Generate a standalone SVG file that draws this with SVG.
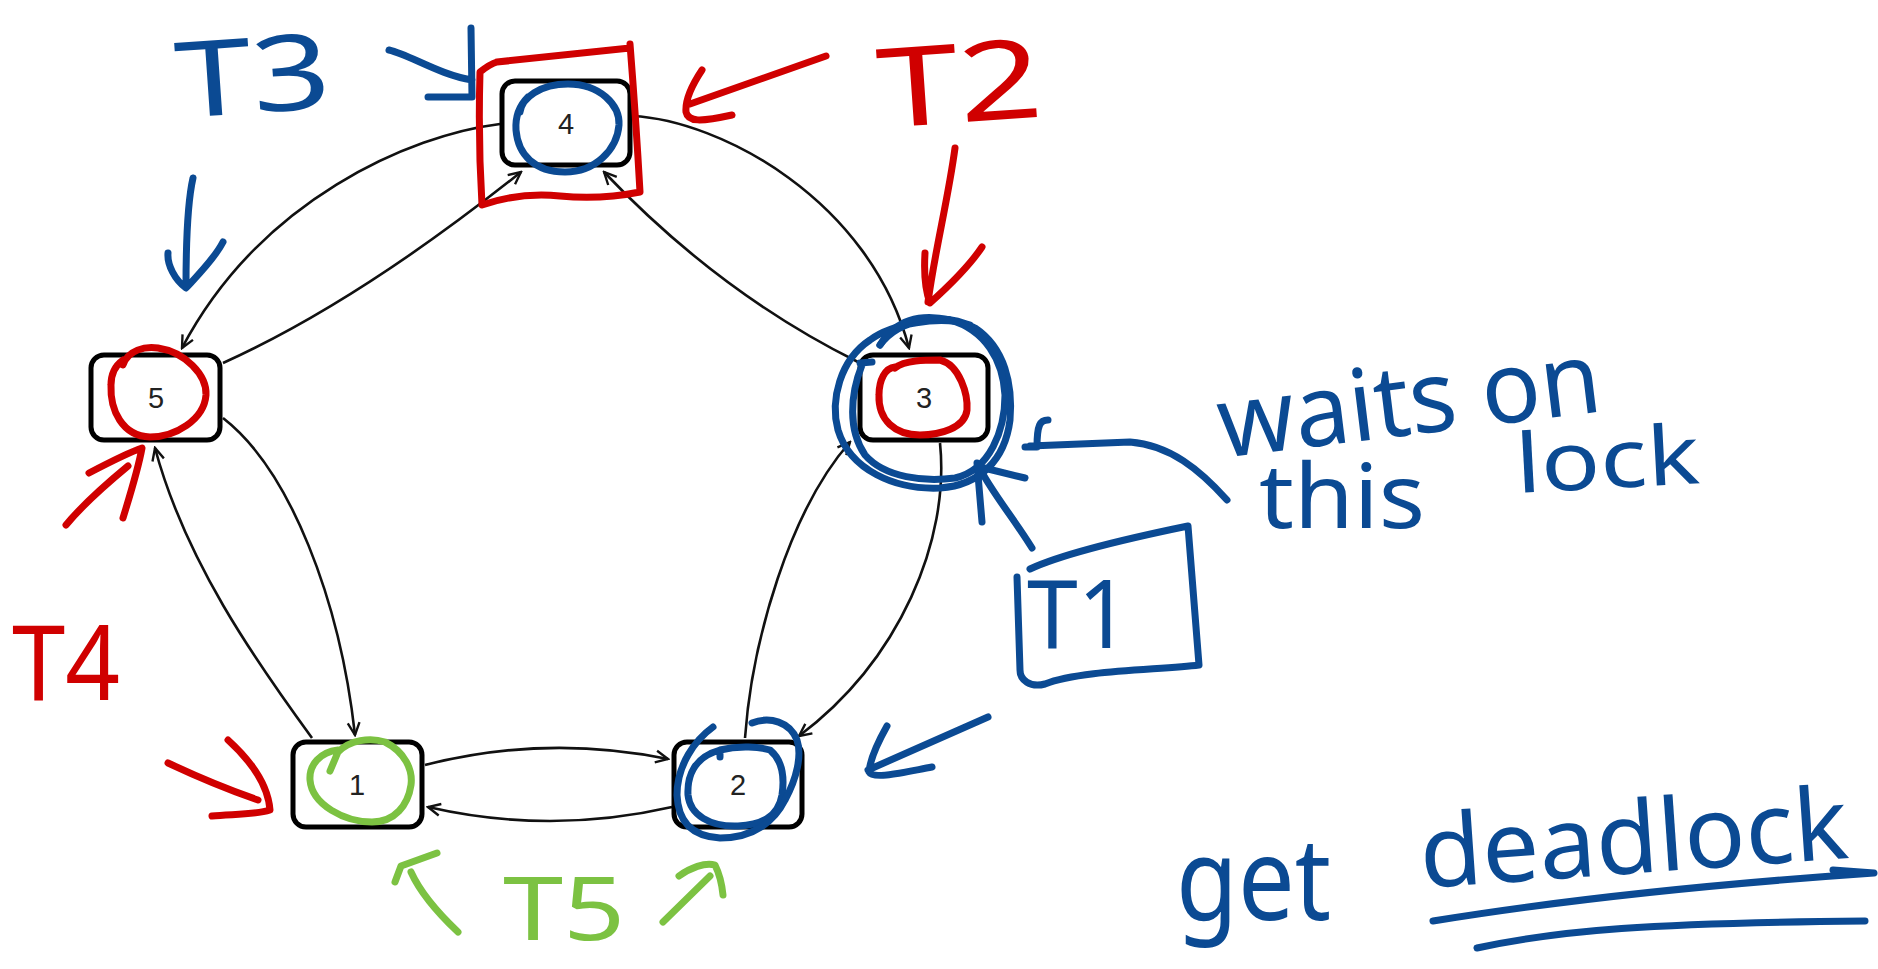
<svg xmlns="http://www.w3.org/2000/svg" width="1878" height="969" viewBox="0 0 1878 969">
<defs>
<style>
.box{fill:#fff;stroke:#000;stroke-width:5}
.lbl{font-family:"Liberation Sans",Arial,sans-serif;font-size:29px;fill:#222;text-anchor:middle}
.edge{fill:none;stroke:#111;stroke-width:2.6}
.pen{fill:none;stroke-width:7;stroke-linecap:round;stroke-linejoin:round}
.blue{stroke:#0b4a93}
.red{stroke:#d00000}
.green{stroke:#7cc242}
.hw{font-family:"Noto Sans","DejaVu Sans",sans-serif}
.tb{fill:#0b4a93}
.tr{fill:#d00000}
.tg{fill:#7cc242}
</style>
<marker id="arr" viewBox="0 0 14 14" refX="12.5" refY="7" markerWidth="15" markerHeight="15" markerUnits="userSpaceOnUse" orient="auto">
<path d="M1,1.5 L12.5,7 L1,12.5" fill="none" stroke="#111" stroke-width="2.2"/>
</marker>
</defs>
<rect width="1878" height="969" fill="#fff"/>
<g id="connectors">
<path class="edge" marker-end="url(#arr)" d="M500,124 C410,135 260,200 182,348"/>
<path class="edge" marker-end="url(#arr)" d="M223,363 Q358,302 521,172"/>
<path class="edge" marker-end="url(#arr)" d="M632,116 C720,120 870,200 909,348"/>
<path class="edge" marker-end="url(#arr)" d="M858,362 Q719,293 604,172"/>
<path class="edge" marker-end="url(#arr)" d="M223,418 C290,470 340,600 355,735"/>
<path class="edge" marker-end="url(#arr)" d="M312,738 C255,660 185,560 155,448"/>
<path class="edge" marker-end="url(#arr)" d="M940,443 C950,540 900,660 799,736"/>
<path class="edge" marker-end="url(#arr)" d="M745,738 C752,640 790,510 850,442"/>
<path class="edge" marker-end="url(#arr)" d="M425,765 Q546,734 668,759"/>
<path class="edge" marker-end="url(#arr)" d="M672,807 Q550,835 428,807"/>
</g>
<g id="node-4"><rect class="box" x="502" y="81" width="128" height="84" rx="13"/><text class="lbl" x="566" y="134">4</text></g>
<g id="node-5"><rect class="box" x="91" y="355" width="129" height="85" rx="13"/><text class="lbl" x="156" y="408">5</text></g>
<g id="node-3"><rect class="box" x="860" y="355" width="128" height="85" rx="13"/><text class="lbl" x="924" y="408">3</text></g>
<g id="node-1"><rect class="box" x="293" y="742" width="129" height="85" rx="13"/><text class="lbl" x="357" y="795">1</text></g>
<g id="node-2"><rect class="box" x="674" y="742" width="128" height="85" rx="13"/><text class="lbl" x="738" y="795">2</text></g>
<g id="annotations">
<g id="t3">
<text class="hw tb" x="178" y="118" font-size="105" textLength="155" lengthAdjust="spacingAndGlyphs" transform="rotate(-4 178 118)">T3</text>
<path class="pen blue" d="M389,50 C410,55 440,75 472,80 M471,28 L472,97 M428,97 L472,97"/>
<path class="pen blue" d="M520,112 C522,98 540,84 568,84 C600,84 620,105 619,125 C617,150 595,172 565,172 C535,172 518,155 516,130 C515,115 520,105 528,97"/>
<path class="pen blue" d="M193,178 C188,200 186,240 186,287 M168,253 C167,265 175,280 186,288 C198,275 215,258 223,242"/>
</g>
<g id="t2">
<text class="hw tr" x="880" y="128" font-size="110" textLength="165" lengthAdjust="spacingAndGlyphs" transform="rotate(-4 880 128)">T2</text>
<path class="pen red" d="M497,62 L630,48 M630,44 Q636,120 640,192 Q600,200 560,196 Q520,192 482,205 Q478,140 480,72 Q490,64 497,62"/>
<path class="pen red" d="M826,56 L690,104 M702,70 C692,85 685,100 686,112 C688,122 700,122 732,115"/>
<path class="pen red" d="M955,148 C948,200 935,250 928,302 M925,253 C924,270 925,290 930,303 C950,285 970,265 982,247"/>
<path class="pen red" d="M895,368 C905,360 925,360 940,360 C960,365 968,395 967,410 C965,428 940,435 920,435 C895,435 878,420 879,395 C879,380 885,368 895,367"/>
</g>
<g id="t4">
<text class="hw tr" x="12" y="700" font-size="105" textLength="108" lengthAdjust="spacingAndGlyphs">T4</text>
<path class="pen red" d="M123,365 C128,350 145,346 158,348 C185,352 207,375 206,395 C204,420 175,437 150,437 C122,436 110,410 111,385 C111,372 116,365 123,360"/>
<path class="pen red" d="M66,525 C80,508 105,485 128,466 M89,473 C110,462 130,452 142,448 C138,470 130,495 123,518"/>
<path class="pen red" d="M168,763 C200,778 235,792 258,800 M228,740 C250,760 268,785 270,810 C255,815 230,814 212,816"/>
</g>
<g id="t5">
<text class="hw tg" x="503" y="940" font-size="88" textLength="122" lengthAdjust="spacingAndGlyphs">T5</text>
<path class="pen green" d="M330,771 L338,752 C350,740 370,737 385,742 C405,752 413,770 411,785 C408,805 395,822 372,822 C345,822 312,805 310,780 C309,765 320,752 338,750"/>
<path class="pen green" d="M437,853 L401,866 L395,882 M411,872 C420,892 440,915 458,932"/>
<path class="pen green" d="M679,876 C690,868 705,862 715,865 C720,875 722,885 723,895 M663,922 L710,876"/>
</g>
<g id="t1">
<path class="pen blue" d="M880,345 C900,318 945,312 975,328 C1005,348 1013,385 1010,420 C1005,460 980,485 940,488 C895,490 850,470 838,430 C830,400 840,360 870,340 C890,325 940,314 970,325"/>
<path class="pen blue" d="M862,365 C850,395 848,430 865,455 C885,478 925,482 955,478 C990,470 1005,430 1005,395 C1003,360 985,330 950,320 C920,313 895,320 880,345 M860,363 L872,362"/>
<path class="pen blue" d="M977,463 L982,522 M978,465 C990,490 1015,520 1032,548 M980,467 L1025,478"/>
<path class="pen blue" d="M1030,569 C1060,555 1120,540 1188,526 L1199,665 C1160,670 1080,670 1045,684 C1030,688 1020,680 1020,670 L1017,577"/>
<text class="hw tb" x="1027" y="648" font-size="95" textLength="103" lengthAdjust="spacingAndGlyphs">T1</text>
<path class="pen blue" d="M1227,500 C1200,470 1170,445 1130,442 L1030,446 M1048,420 C1040,420 1037,425 1037,447 L1025,447"/>
<text class="hw tb" x="1222" y="458" font-size="100" textLength="385" lengthAdjust="spacingAndGlyphs" transform="rotate(-7 1222 458)">waits on</text>
<text class="hw tb" x="1259" y="528" font-size="90" textLength="166" lengthAdjust="spacingAndGlyphs">this</text>
<text class="hw tb" x="1517" y="493" font-size="82" textLength="184" lengthAdjust="spacingAndGlyphs" transform="rotate(-3 1517 493)">lock</text>
<path class="pen blue" d="M720,757 L720,750 C740,745 760,747 770,750 C782,760 785,775 782,795 C778,818 760,825 738,826 C710,827 690,815 688,795 C687,775 695,757 720,750"/>
<path class="pen blue" d="M713,727 C695,740 677,765 677,795 C678,820 690,836 720,838 C755,838 775,820 785,800 C797,778 802,755 797,740 C790,722 770,716 752,723"/>
<path class="pen blue" d="M988,717 L868,770 M887,726 C878,742 870,760 869,772 C873,780 905,772 932,767"/>
</g>
<g id="deadlock">
<text class="hw tb" x="1176" y="920" font-size="115" textLength="155" lengthAdjust="spacingAndGlyphs">get</text>
<text class="hw tb" x="1422" y="888" font-size="100" textLength="429" lengthAdjust="spacingAndGlyphs" transform="rotate(-4 1422 888)">deadlock</text>
<path class="pen blue" d="M1433,921 C1550,902 1700,885 1874,873 L1833,870"/>
<path class="pen blue" d="M1477,948 C1560,930 1650,923 1865,921"/>
</g>
</g>
</svg>
